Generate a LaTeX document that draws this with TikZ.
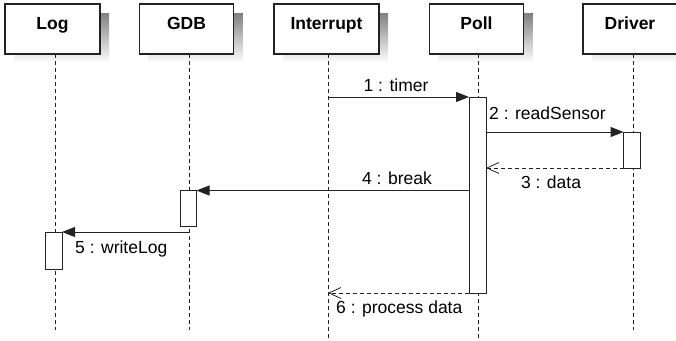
\documentclass[tikz,border=0pt]{standalone}
\usepackage{fontspec}
\setmainfont{Liberation Sans}
\usetikzlibrary{arrows.meta}
\definecolor{shade}{HTML}{E4E4E4}
\definecolor{ink}{HTML}{222222}
\tikzset{
  x=1pt, y=-1pt,
  head/.style={draw=ink, line width=1.1pt, fill=white, minimum width=94pt, minimum height=50pt, inner sep=0pt},
  lifeline/.style={draw=ink, line width=0.9pt, dash pattern=on 4pt off 3pt},
  actbar/.style={draw=ink, line width=1pt, fill=white},
  call/.style={draw=ink, line width=1pt, -{Triangle[length=13pt, width=10pt]}},
  reply/.style={draw=ink, line width=0.9pt, dash pattern=on 4pt off 3pt, -{Straight Barb[length=12pt, width=11pt, line width=0.8pt]}},
  lbl/.style={font=\fontsize{17.5}{20}\selectfont, inner sep=0pt},
  htxt/.style={font=\fontsize{17.5}{20}\selectfont\bfseries, inner sep=0pt, anchor=base},
}
\begin{document}
\begin{tikzpicture}
\useasboundingbox (0,0) rectangle (676,340);

% drop shadows behind the participant heads
\fill[shade] (14,13) rectangle (109,63);
\fill[shade] (148.5,13) rectangle (242.5,63);
\fill[shade] (283,13) rectangle (388,63);
\fill[shade] (438.5,13) rectangle (532.5,63);
\fill[shade] (592,13) rectangle (686,63);

% participant heads
\node[head, minimum width=95pt] (log) at (52.5,29) {};
\node[head] (gdb) at (186.5,29) {};
\node[head, minimum width=105pt] (intr) at (326.5,29) {};
\node[head] (poll) at (476.5,29) {};
\node[head] (drv) at (630,29) {};
\node[htxt] at (52.5,29.5) {Log};
\node[htxt] at (186.5,29.5) {GDB};
\node[htxt] at (326.5,29.5) {Interrupt};
\node[htxt] at (476.5,29.5) {Poll};
\node[htxt] at (630,29.5) {Driver};

% lifelines
\coordinate (logE) at (55,330);
\coordinate (gdbE) at (189,330);
\coordinate (intrE) at (328,339);
\coordinate (pollE) at (478,339);
\coordinate (drvE) at (633,330);
\draw[lifeline] (55,54) -- (logE);
\draw[lifeline] (189,54) -- (gdbE);
\draw[lifeline] (328,54) -- (intrE);
\draw[lifeline] (478,54) -- (pollE);
\draw[lifeline] (633,54) -- (drvE);

% activation bars
\draw[actbar] (469,97) rectangle (486,293);
\draw[actbar] (623.5,132) rectangle (640,168);
\draw[actbar] (180,190.5) rectangle (196.5,226);
\draw[actbar] (45,232) rectangle (62,269);

% messages
\coordinate (m1s) at (328,97);   \coordinate (m1e) at (469,97);
\coordinate (m2s) at (486,132);  \coordinate (m2e) at (623.5,132);
\coordinate (m3s) at (623.5,168);\coordinate (m3e) at (486,168);
\coordinate (m4s) at (469,190.5);\coordinate (m4e) at (196.5,190.5);
\coordinate (m5s) at (189,232);  \coordinate (m5e) at (62,232);
\coordinate (m6s) at (469,293);  \coordinate (m6e) at (328,293);
\draw[call] (m1s) -- (m1e);
\draw[call] (m2s) -- (m2e);
\draw[reply] (m3s) -- (m3e);
\draw[call] (m4s) -- (m4e);
\draw[call] (m5s) -- (m5e);
\draw[reply] (m6s) -- (m6e);

% message labels
\node[lbl, anchor=base] at (396,91.5) {1 : timer};
\node[lbl, anchor=base west] at (489,119.3) {2 : readSensor};
\node[lbl, anchor=base] at (551,188.3) {3 : data};
\node[lbl, anchor=base] at (397,184) {4 : break};
\node[lbl, anchor=base west] at (75,253.3) {5 : writeLog};
\node[lbl, anchor=base west] at (336,313.3) {6 : process data};
\end{tikzpicture}
\end{document}
